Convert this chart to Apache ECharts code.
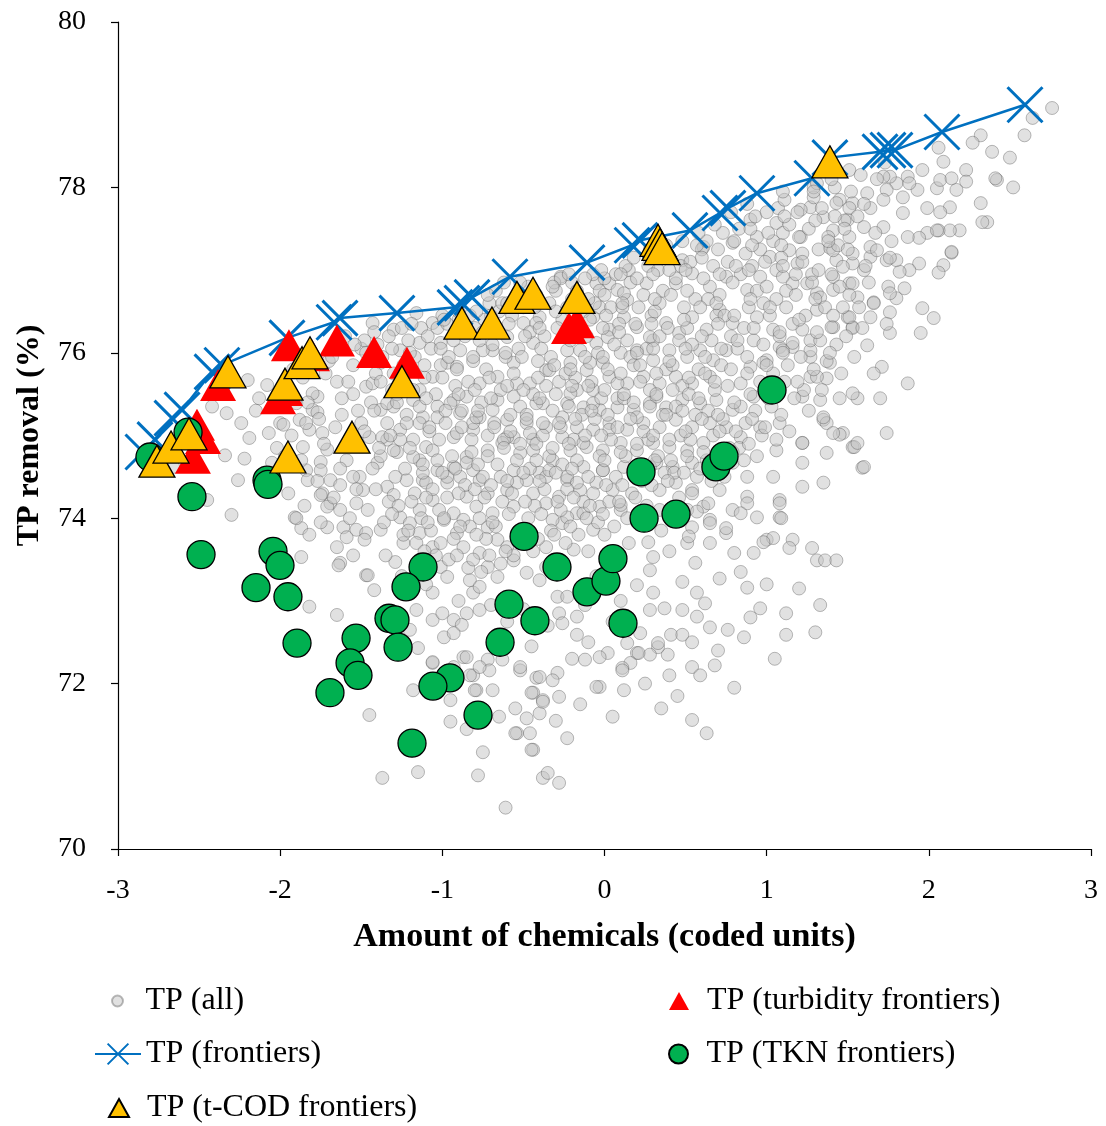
<!DOCTYPE html>
<html>
<head>
<meta charset="utf-8">
<script src="https://cdn.jsdelivr.net/npm/echarts@6/dist/echarts.min.js"></script>
<style>
  html, body { margin: 0; padding: 0; background: #fff; }
  #chart { width: 1106px; height: 1126px; }
</style>
</head>
<body>
<div id="chart"></div>
<script>
// Axis ticks
const xTicks = [-3, -2, -1, 0, 1, 2, 3];
const yTicks = [70, 72, 74, 76, 78, 80];

// TP removal for every evaluated dosing combination: [coded chemical amount, TP removal %]
const tpAll = [
  [-2.66,74.62],[-2.45,74.22],[-2.30,74.04],[-2.34,74.76],[-2.26,74.46],[-2.33,75.27],[-2.42,75.35],[-2.50,75.0],
  [-2.20,75.67],[-2.08,75.61],[-2.13,75.45],[-2.19,74.97],[-2.07,75.03],[-2.00,75.15],[-2.05,74.67],[-2.24,75.15],[-2.15,75.3],[-2.22,74.72],[-2.02,74.85],[-1.98,75.13],
  [-1.90,75.39],[-1.77,75.47],[-1.80,75.31],[-1.88,75.19],[-1.82,75.07],[-1.84,74.58],[-1.75,74.68],[-1.69,74.46],
  [-1.80,75.51],[-1.77,75.28],[-1.84,75.15],[-1.74,75.03],[-1.86,74.86],[-1.71,74.83],[-1.75,74.58],[-1.83,74.46],[-1.74,74.30],[-1.69,74.18],[-1.63,74.10],[-1.91,74.01],[-1.87,73.88],[-1.82,73.80],[-1.71,73.89],[-1.61,73.89],[-1.59,73.77],[-1.63,73.46],[-1.65,72.83],[-1.82,72.93],[-1.63,74.40],[-1.53,74.18],[-1.49,74.34],[-1.51,74.50],[-1.45,74.98],[-1.59,74.70],[-1.55,74.50],[-1.53,73.86],[-1.47,73.82],[-1.48,73.74],[-1.38,73.86],[-1.47,73.31],[-1.42,73.13],
  [-1.90,74.0],[-1.87,73.53],[-1.75,74.28],[-1.71,74.14],[-1.64,73.43],[-1.46,73.31],[-1.45,71.62],[-1.37,70.86],[-1.15,70.93],[-1.15,72.43],[-1.16,72.89],[-1.18,71.92],[-0.95,71.54],[-0.78,70.89],[-0.75,71.17],[-0.61,70.50],[-0.54,71.40],[-0.46,71.40],[-0.44,71.20],[-0.38,70.86],[-0.44,71.89],[-0.48,71.58],[-0.40,71.64],[-0.79,71.92],[-0.81,72.10],[-0.87,72.32],[-0.72,72.29],[-0.71,72.16],[-0.63,72.29],[-0.52,72.16],[-0.42,72.07],[-0.38,71.80],[-1.06,72.25],[-0.95,71.80],
  [-1.47,75.59],[-1.38,75.31],[-1.34,74.95],[-1.28,74.80],[-1.40,74.67],[-1.34,74.38],[-1.30,74.28],[-1.26,74.01],[-1.22,74.46],[-1.14,74.70],[-1.10,74.86],[-1.12,74.46],[-1.03,74.58],[-0.97,74.43],[-1.06,74.22],[-1.14,74.10],[-1.20,73.94],[-1.14,73.82],[-1.24,73.70],[-1.29,73.47],[-1.06,73.65],[-1.01,73.41],[-0.97,73.29],[-0.99,73.98],[-0.93,74.06],[-0.87,73.98],[-0.91,73.82],[-0.89,74.50],[-0.93,74.62],[-0.85,74.74],[-0.81,74.58],[-0.77,74.46],[-0.72,74.30],[-0.79,74.14],[-0.69,74.06],[-0.72,73.89],[-0.77,73.58],[-0.83,73.25],[-0.81,73.10],[-0.85,72.85],[-0.93,72.77],[-0.99,72.56],[-1.06,72.77],[-1.06,73.10],
  [-1.30,75.35],[-1.18,75.43],[-1.12,75.22],[-1.03,75.35],[-0.93,75.43],[-0.89,75.27],[-0.81,75.07],[-0.77,75.22],[-0.66,75.43],[-0.60,75.19],[-0.56,74.98],[-0.52,74.79],[-0.44,74.95],[-0.36,75.10],[-0.26,75.22],[-0.19,74.95],[-0.32,74.70],[-0.40,74.55],[-0.48,74.46],[-0.56,74.58],[-0.60,74.34],[-0.56,74.14],[-0.44,74.30],[-0.36,74.18],[-0.28,74.26],[-0.23,74.46],[-0.17,74.06],[-0.26,73.94],[-0.32,73.98],[-0.19,73.62],[-0.66,73.74],[-0.60,73.65],[-0.56,73.49],[-0.72,73.41],[-0.66,73.29],[-0.77,73.17],[-0.48,73.34],[-0.40,73.25],[-0.36,73.41],[-0.29,73.05],[-0.23,73.05],[-0.17,72.81],[-0.28,72.85],[-0.77,72.89],[-0.93,72.20],[-0.85,72.32],[-0.77,72.20],[-0.52,72.20],[-0.40,72.08],[-0.29,72.13],
  [0.03,76.84],[0.14,76.64],[0.26,76.84],[0.34,76.60],[0.44,76.84],[0.54,76.96],[0.65,76.80],[0.75,76.92],[0.88,76.76],[0.96,76.92],[1.06,77.00],[1.16,76.84],[1.31,76.72],[1.41,76.76],[1.51,76.84],[1.53,76.31],[1.41,76.31],[1.22,76.28],[1.16,76.07],[1.27,75.95],[1.39,75.88],[1.50,76.43],[1.27,75.71],[1.37,75.69],[1.45,75.45],[1.56,75.45],[1.33,75.43],[1.22,75.47],[1.35,75.19],[1.22,74.91],[1.37,74.79],[1.53,74.86],[1.47,75.03],[1.22,74.67],[1.22,74.38],[1.08,74.22],[1.08,74.01],[0.94,74.01],[0.88,74.26],[0.88,74.50],[1.04,74.50],[1.06,74.82],[0.96,75.10],[1.08,75.15],[0.92,75.47],[0.84,75.63],[0.90,75.83],[1.00,75.91],[1.08,76.07],[1.04,76.28],[0.94,76.43],[0.79,76.36],[0.71,76.52],[0.63,76.28],[0.54,76.43],[0.46,76.24],[0.38,76.36],[0.30,76.15],[0.20,76.31],[0.12,76.43],[0.03,76.28],[-0.05,76.12],[-0.07,76.43],[-0.15,76.03],[-0.21,75.88],[-0.11,75.79],[-0.01,75.88],[0.10,76.00],[0.20,76.03],[0.30,75.91],[0.40,76.03],[0.51,75.95],[0.59,76.03],[0.67,75.91],[0.75,76.03],[0.65,75.71],[0.54,75.63],[0.44,75.71],[0.34,75.63],[0.24,75.71],[0.14,75.63],[0.03,75.71],[-0.07,75.55],[-0.17,75.55],[-0.23,75.39],[-0.13,75.34],[-0.03,75.31],[0.08,75.34],[0.18,75.31],[0.28,75.39],[0.38,75.34],[0.48,75.43],[0.59,75.39],[0.69,75.43],[0.79,75.31],[0.75,75.10],[0.65,75.15],[0.54,75.10],[0.44,75.19],[0.34,75.10],[0.24,75.15],[0.14,75.07],[0.03,75.15],[-0.07,75.07],[-0.17,75.10],[-0.26,74.98],[-0.21,74.82],[-0.11,74.86],[-0.01,74.82],[0.10,74.91],[0.20,74.82],[0.30,74.91],[0.40,74.86],[0.51,74.82],[0.61,74.91],[0.71,74.82],[0.84,74.98],[0.79,74.67],[0.69,74.62],[0.54,74.67],[0.42,74.62],[0.32,74.67],[0.12,74.62],[-0.01,74.58],[-0.13,74.62],[-0.23,74.50],[-0.15,74.34],[-0.05,74.43],[0.05,74.34],[0.34,74.34],[0.44,74.43],[0.54,74.34],[0.71,74.34],[0.88,74.18],[0.79,74.10],[0.61,74.14],[0.51,74.10],[0.10,74.10],[-0.03,74.14],[-0.13,74.06],[-0.23,74.01],[-0.07,73.86],[0.54,73.89],[0.65,73.98],[0.75,73.82],[1.00,73.74],[1.16,73.74],[0.51,73.70],[0.65,73.70],[1.53,75.51],[1.37,75.15],[1.35,74.43],
  [2.50,78.36],[2.52,78.0],[2.42,78.09],[2.32,77.81],[2.36,77.58],[2.23,78.21],[2.23,78.07],[2.17,77.97],[2.19,77.48],[2.13,77.76],[2.07,77.70],[1.99,77.75],[2.13,77.48],[2.06,77.48],[1.99,77.45],[1.94,77.39],[2.14,77.21],[2.09,77.06],[2.06,76.97],[1.94,77.08],[1.88,77.0],[1.82,76.98],[1.85,76.78],[1.80,76.66],[1.96,76.54],[2.03,76.42],[1.95,76.24],[1.76,76.49],[1.76,76.24],[1.62,76.09],[1.71,75.83],[1.87,75.63],[1.70,75.45],[1.74,75.03],[1.45,75.01],[1.54,74.86],[1.59,74.61],[1.64,76.43],[1.53,76.30],[1.40,76.31],[1.66,76.61],[1.56,76.67],[1.75,76.80],[1.80,77.12],[1.74,77.12],[1.64,77.16],[1.53,77.08],[1.41,76.92],[1.45,76.80],[1.93,77.97],[1.87,78.13],[1.80,78.05],[1.74,77.97],[1.72,77.85],[1.62,77.93],[1.53,77.81],[1.45,77.85],[1.50,77.61],[1.60,77.52],[1.72,77.52],[1.84,77.69],[1.87,77.40],[1.51,77.40],[1.41,77.48],[1.35,77.64],[1.64,77.28],[1.43,77.12],[1.60,77.00],[1.53,76.84],[1.96,78.21],[2.05,77.99],[2.09,78.31],[2.07,78.09],
  [2.76,78.96],[2.64,78.84],[2.59,78.63],[2.41,78.11],[2.32,78.63],[2.27,78.54],[2.39,78.43],[2.14,78.11],[2.06,78.48],[1.88,78.05],[1.76,78.13],[1.84,77.88],[2.33,77.58],[2.05,77.48],[2.14,77.22],[1.76,77.15],[1.51,77.75],[1.39,77.27],[1.27,77.76],[1.21,77.40],[1.14,77.24],[1.06,77.57],[0.94,77.40],[1.02,77.16],[1.10,76.92],[1.19,77.08],[1.25,76.84],[1.33,76.67],[1.31,76.52],[1.16,76.12],[1.10,76.03],[0.98,75.88],
  [-0.27,76.92],[-0.05,76.84],[0.08,76.76],[0.48,77.12],[0.61,77.28],[0.79,77.33],[0.90,77.61],[1.10,77.45],[1.21,77.73],[1.29,77.88],[1.43,77.81],[1.72,78.13],[1.51,78.21],[1.41,77.24],[1.47,77.04],[1.68,77.24],[1.76,76.72],[1.66,76.60],[1.51,76.43],[1.27,76.03],[1.31,75.71],[1.35,75.22],[1.41,75.03],[1.56,74.91],[1.22,74.91],[1.60,74.62],
  [0.10,74.16],[0.57,74.08],[0.65,73.94],[0.75,73.88],[0.84,74.06],[1.08,74.18],[1.09,74.0],[1.04,73.76],[0.98,73.71],[1.14,73.64],[1.28,73.64],[1.31,73.49],[1.36,73.49],[1.43,73.49],[1.33,72.95],[1.12,72.85],[1.12,72.59],[0.96,72.91],[0.86,72.56],[0.76,72.65],[0.88,73.16],[0.84,73.35],[0.92,73.58],[0.80,73.58],[0.71,73.27],[0.57,73.10],[0.62,72.97],[0.65,72.68],[0.48,72.89],[0.57,72.81],[0.48,73.23],[0.56,73.46],[0.52,73.78],[0.37,72.91],[0.41,72.59],[0.48,72.59],[0.54,72.50],[0.39,72.35],[0.68,72.22],[0.54,72.20],[0.59,72.10],[0.40,72.10],[0.54,71.56],[0.63,71.40],[0.28,72.89],[0.22,72.61],[0.14,72.49],[0.33,72.44],[0.28,72.35],[0.20,72.37],[0.16,72.25],[0.11,72.19],[0.02,72.37],[0.12,71.92],[-0.03,71.96],[0.20,73.19],[0.30,73.53],[0.28,73.37],[0.27,73.71],[0.64,74.18],[1.30,72.62],
  [-0.80,71.92],[-0.69,71.92],[-0.83,72.10],[-0.32,72.04],[-0.45,71.89],[-0.38,71.78],[-0.28,71.84],[-0.55,71.40],[-0.23,71.34],[-0.45,71.20],[-0.35,70.92],[-0.28,70.80],[-0.88,72.71],[-0.05,71.96],[-0.12,72.29],[-0.03,72.32],[0.11,72.16],[0.21,72.37],[0.33,72.49],[-0.17,72.59],[-0.26,72.73],[-0.93,72.61],[-1.06,72.26],
  [-1.43,76.36],[-1.30,76.28],[-1.16,76.48],[-1.06,76.36],[-1.01,76.12],[-1.14,76.12],[-1.26,76.03],[-1.38,75.88],[-1.43,75.63],[-1.34,75.39],[-1.14,75.55],[-1.06,75.71],[-0.97,75.88],[-0.89,76.03],[-0.69,76.03],[-0.60,76.19],[-0.50,76.36],[-0.40,76.43],[-0.44,76.12],[-0.56,75.88],[-0.66,75.71],[-0.77,75.63],[-0.85,75.47],[-0.95,75.39],[-1.03,75.22],[-1.14,75.15],[-1.26,75.07],[-1.37,74.98],[-1.30,74.82],[-1.18,74.74],[-1.06,74.82],[-0.93,74.98],[-0.81,75.15],[-0.69,75.31],[-0.56,75.47],[-0.46,75.63],[-0.36,75.79],[-0.38,75.39],[-0.48,75.15],[-0.60,74.98],[-0.72,74.82],[-0.85,74.67],[-0.97,74.50],[-1.10,74.43],[-0.44,74.82],[-0.64,74.50],[-0.36,74.50],
  [-0.91,75.83],[-0.75,76.03],[-0.42,76.36],[-0.03,76.55],[0.12,76.72],[0.02,76.19],[-0.09,75.88],[-0.23,76.03],[-0.34,75.79],[0.16,75.95],[0.28,76.19],[0.08,75.63],[-0.07,75.39],[-0.21,75.51],[-0.42,75.39],[-0.54,75.63],[-0.79,75.22],[-0.91,75.03],[-0.63,74.91],[-0.46,75.03],[-0.27,75.10],[-0.13,74.91],[0.03,75.07],[0.20,75.22],[0.32,75.47],[-0.75,74.50],[-0.54,74.43],[-0.34,74.58],[-0.17,74.43],[-0.01,74.58],[0.28,74.62],[-0.85,74.26],
  [-0.30,76.75],[-0.20,76.85],[-0.50,76.60],[-0.70,76.45],[-0.90,76.40],[0.00,76.90],[0.15,77.00],[0.40,77.15],[0.60,77.25],[-1.60,76.20],[-1.50,76.05],[-1.70,75.90],[-1.55,75.85],[-1.48,76.15],[-1.25,76.30],[-1.20,75.80],[-1.55,75.50],[-1.65,75.65],[-1.62,75.25],[-1.50,75.15],[-1.25,75.60],[-1.00,76.45],[-0.80,76.30],[-0.65,76.50],[-0.75,76.25],
  [-0.10,73.60],[0.00,73.80],[0.15,73.70],[0.20,73.95],[-0.05,73.30],[0.10,73.00],[-0.12,72.95],[0.05,72.75],[0.30,73.10],[0.40,73.60],[0.35,73.85],[0.45,74.05],
  [-1.46,74.1],[-1.43,74.6],[-1.48,75.05],[-1.44,75.4],[-1.41,75.75],[-1.47,76.0],[-1.42,76.25],
  [-1.36,73.95],[-1.33,74.2],[-1.38,74.75],[-1.34,75.15],[-1.31,75.55],[-1.37,75.95],[-1.33,76.2],
  [-1.24,73.8],[-1.27,74.15],[-1.23,74.6],[-1.26,74.95],[-1.22,75.25],[-1.28,75.5],[-1.24,75.85],[-1.21,76.15],
  [-1.16,73.7],[-1.13,74.0],[-1.17,74.3],[-1.12,74.55],[-1.18,74.95],[-1.14,75.35],[-1.11,75.7],[-1.17,75.95],[-1.13,76.3],
  [-1.04,73.55],[-1.07,73.85],[-1.02,74.1],[-1.06,74.35],[-1.03,74.7],[-1.08,75.05],[-1.04,75.5],[-1.01,75.85],[-1.07,76.05],[-1.03,76.3],
  [-0.96,73.5],[-0.93,73.75],[-0.97,74.25],[-0.94,74.75],[-0.98,75.15],[-0.92,75.6],[-0.96,75.95],[-0.93,76.15],[-0.97,76.35],
  [-0.84,73.4],[-0.87,73.65],[-0.83,73.9],[-0.86,74.4],[-0.82,74.95],[-0.88,75.3],[-0.84,75.65],[-0.81,75.9],[-0.86,76.2],[-0.83,76.45],
  [-0.76,73.35],[-0.73,73.75],[-0.77,74.0],[-0.74,74.25],[-0.78,74.65],[-0.72,75.0],[-0.76,75.4],[-0.73,75.8],[-0.77,76.15],[-0.74,76.4],[-0.71,76.6],
  [-0.64,73.45],[-0.67,73.9],[-0.63,74.2],[-0.66,74.65],[-0.62,74.95],[-0.68,75.15],[-0.64,75.55],[-0.61,75.95],[-0.66,76.25],[-0.63,76.6],[-0.67,76.75],
  [-0.56,73.55],[-0.53,73.85],[-0.57,74.3],[-0.54,74.7],[-0.58,75.05],[-0.52,75.35],[-0.56,75.75],[-0.53,76.05],[-0.57,76.45],[-0.54,76.7],
  [-0.44,73.6],[-0.47,74.0],[-0.43,74.15],[-0.46,74.6],[-0.42,74.9],[-0.48,75.25],[-0.44,75.5],[-0.41,75.9],[-0.46,76.25],[-0.43,76.55],[-0.47,76.8],
  [-0.36,73.65],[-0.33,73.85],[-0.37,74.35],[-0.34,74.75],[-0.38,75.0],[-0.32,75.3],[-0.36,75.6],[-0.33,75.95],[-0.37,76.2],[-0.34,76.6],[-0.31,76.85],
  [-0.24,73.7],[-0.27,74.1],[-0.23,74.35],[-0.26,74.65],[-0.22,75.35],[-0.28,75.65],[-0.24,75.75],[-0.21,76.15],[-0.26,76.4],[-0.23,76.55],[-0.27,76.9],
  [-0.16,73.8],[-0.13,74.2],[-0.17,74.7],[-0.14,75.25],[-0.18,75.7],[-0.12,75.95],[-0.16,76.3],[-0.13,76.5],[-0.17,76.75],
  [-0.04,73.95],[-0.07,74.3],[-0.03,74.75],[-0.06,75.2],[-0.02,75.45],[-0.08,75.65],[-0.04,76.0],[-0.01,76.3],[-0.06,76.6],[-0.03,76.75],[-0.07,76.95],
  [0.06,73.9],[0.03,74.2],[0.07,74.5],[0.04,74.95],[0.08,75.45],[0.02,75.8],[0.06,76.1],[0.09,76.35],[0.04,76.55],[0.07,76.95],
  [0.14,74.0],[0.17,74.3],[0.13,74.75],[0.16,75.2],[0.12,75.45],[0.18,75.85],[0.14,76.15],[0.11,76.55],[0.16,76.85],[0.13,77.05],
  [0.26,74.15],[0.23,74.45],[0.27,74.95],[0.24,75.05],[0.28,75.55],[0.22,75.85],[0.26,76.05],[0.29,76.45],[0.24,76.7],[0.27,77.05],
  [0.34,74.1],[0.37,74.55],[0.33,74.75],[0.36,75.25],[0.32,75.5],[0.38,75.8],[0.34,76.2],[0.31,76.5],[0.36,76.75],[0.33,77.0],[0.37,77.2],
  [0.46,74.25],[0.43,74.55],[0.47,75.0],[0.44,75.35],[0.48,75.6],[0.42,75.85],[0.46,76.15],[0.49,76.55],[0.44,76.9],[0.47,77.05],
  [0.54,74.3],[0.57,74.5],[0.53,74.95],[0.56,75.25],[0.52,75.5],[0.58,75.8],[0.54,76.1],[0.51,76.3],[0.56,76.65],[0.53,77.1],[0.57,77.3],
  [0.66,74.45],[0.63,74.7],[0.67,75.0],[0.64,75.3],[0.68,75.55],[0.62,75.95],[0.66,76.15],[0.69,76.45],[0.64,76.65],[0.67,77.05],[0.63,77.35],
  [0.74,74.5],[0.77,74.85],[0.73,75.2],[0.76,75.6],[0.72,75.85],[0.78,76.2],[0.74,76.45],[0.71,76.7],[0.76,77.1],[0.73,77.45],
  [0.86,74.7],[0.83,74.85],[0.87,75.15],[0.84,75.35],[0.88,75.75],[0.82,76.05],[0.86,76.3],[0.89,76.55],[0.84,76.95],[0.87,77.2],[0.83,77.5],
  [0.94,74.75],[0.97,75.0],[0.93,75.3],[0.96,75.65],[0.92,76.15],[0.98,76.6],[0.94,76.75],[0.91,77.05],[0.96,77.25],[0.93,77.65],
  [1.06,74.95],[1.03,75.35],[1.07,75.6],[1.04,75.75],[1.08,76.2],[1.02,76.45],[1.06,76.65],[1.09,77.15],[1.04,77.35],[1.07,77.75],
  [1.14,75.05],[1.17,75.45],[1.13,75.85],[1.16,76.35],[1.12,76.55],[1.18,76.95],[1.14,77.55],[1.11,77.85],
  [1.26,75.3],[1.23,75.55],[1.27,76.15],[1.24,76.45],[1.28,76.95],[1.22,77.2],[1.26,77.5],[1.29,78.0],
  [1.34,75.55],[1.37,75.9],[1.33,76.15],[1.36,76.55],[1.32,77.0],[1.38,77.4],[1.34,77.75],[1.31,78.05],
  [1.46,75.75],[1.43,76.1],[1.47,76.55],[1.44,77.3],[1.48,77.6],[1.42,78.0],
  [1.54,75.95],[1.57,76.55],[1.53,77.2],[1.56,77.65],[1.52,77.95],[1.58,78.15],
  [1.66,75.75],[1.63,76.85],[1.67,77.45],[1.64,77.75],[1.68,78.1],
  [1.74,76.35],[1.77,77.35],[1.73,78.3],
  [-1.95,74.3],[-1.97,74.75],[-1.93,75.0],[-1.96,75.55],[-1.92,75.8],
  [-1.85,74.15],[-1.87,74.7],[-1.83,75.4],[-1.86,75.7],
  [-1.75,73.95],[-1.77,74.45],[-1.73,74.9],[-1.76,75.2],[-1.72,75.75],
  [-1.65,73.65],[-1.67,74.25],[-1.63,74.6],[-1.66,75.1],[-1.62,75.45],[-1.68,75.95],
  [-1.55,73.55],[-1.57,74.0],[-1.53,74.35],[-1.56,74.9],[-1.52,75.3],[-1.58,75.65],[-1.54,76.1],
  [-1.35,73.55],[-1.25,73.3],[-1.10,73.2],[-0.90,73.0],[-0.70,72.95],[-0.60,72.75],[-0.50,72.9],[-0.35,72.7],[-0.60,72.5],[-0.45,72.45],[-0.20,72.3],[-0.10,72.5],[-1.00,72.85],[-1.20,72.65],
  [-0.55,71.7],[-0.65,71.6],[-0.85,71.45],[-0.30,71.55],[-0.15,71.75],[0.05,71.6],[0.25,72.0],[0.45,71.85],[0.70,72.4],[0.90,72.8],[1.00,73.2],[1.20,73.15],[1.05,72.3],[0.80,71.95],[0.35,71.7],
  [-1.41,74.35],[-1.39,74.85],[-1.42,75.3],[-1.38,75.65],[-1.40,76.1],
  [-1.31,74.05],[-1.29,74.5],[-1.32,75.0],[-1.28,75.4],[-1.30,75.75],[-1.31,76.05],
  [-1.21,73.85],[-1.19,74.2],[-1.20,74.85],[-1.22,75.15],[-1.18,75.55],[-1.20,76.0],[-1.19,76.35],
  [-1.11,73.6],[-1.09,73.95],[-1.10,74.25],[-1.12,74.65],[-1.08,75.1],[-1.10,75.45],[-1.11,75.85],[-1.09,76.2],
  [-1.01,73.7],[-0.99,74.0],[-1.00,74.55],[-1.02,74.95],[-0.98,75.3],[-1.00,75.7],[-1.01,76.05],[-0.99,76.4],
  [-0.91,73.55],[-0.89,73.9],[-0.90,74.3],[-0.92,74.6],[-0.88,75.1],[-0.90,75.5],[-0.91,75.8],[-0.89,76.25],[-0.90,76.5],
  [-0.81,73.5],[-0.79,73.8],[-0.80,74.35],[-0.82,74.8],[-0.78,75.3],[-0.80,75.55],[-0.81,75.95],[-0.79,76.5],
  [-0.71,73.55],[-0.69,73.95],[-0.70,74.4],[-0.72,74.75],[-0.68,75.1],[-0.70,75.45],[-0.71,75.7],[-0.69,76.1],[-0.70,76.35],[-0.72,76.7],
  [-0.61,73.6],[-0.59,74.05],[-0.60,74.45],[-0.62,74.85],[-0.58,75.25],[-0.60,75.6],[-0.61,76.0],[-0.59,76.35],[-0.60,76.6],[-0.62,76.85],
  [-0.51,73.75],[-0.49,74.2],[-0.50,74.55],[-0.52,74.9],[-0.48,75.2],[-0.50,75.55],[-0.51,75.95],[-0.49,76.2],[-0.50,76.55],[-0.52,76.85],
  [-0.41,73.75],[-0.39,74.05],[-0.40,74.45],[-0.42,74.7],[-0.38,75.15],[-0.40,75.45],[-0.41,75.7],[-0.39,76.05],[-0.40,76.3],[-0.42,76.7],
  [-0.31,73.8],[-0.29,74.2],[-0.30,74.55],[-0.32,74.85],[-0.28,75.15],[-0.30,75.5],[-0.31,75.85],[-0.29,76.3],[-0.30,76.5],[-0.32,76.8],
  [-0.21,73.9],[-0.19,74.25],[-0.20,74.6],[-0.22,74.9],[-0.18,75.2],[-0.20,75.6],[-0.21,75.8],[-0.19,76.2],[-0.20,76.65],[-0.22,76.95],
  [-0.11,74.0],[-0.09,74.15],[-0.10,74.5],[-0.12,75.0],[-0.08,75.3],[-0.10,75.6],[-0.11,76.2],[-0.09,76.4],[-0.10,76.65],[-0.12,76.9],
  [-0.01,74.05],[0.01,74.4],[0.00,74.7],[-0.02,75.0],[0.02,75.25],[0.00,75.55],[-0.01,75.95],[0.01,76.45],[0.00,76.7],[-0.02,77.0],
  [0.09,74.2],[0.11,74.4],[0.10,74.8],[0.08,75.1],[0.12,75.5],[0.10,75.75],[0.09,76.25],[0.11,76.6],[0.10,76.95],
  [0.19,74.25],[0.21,74.55],[0.20,74.9],[0.18,75.4],[0.22,75.65],[0.20,76.0],[0.19,76.35],[0.21,76.55],[0.20,76.9],[0.18,77.15],
  [0.29,74.4],[0.31,74.7],[0.30,75.0],[0.28,75.35],[0.32,75.75],[0.30,76.05],[0.29,76.35],[0.31,76.65],[0.30,76.95],[0.28,77.25],
  [0.39,74.45],[0.41,74.7],[0.40,74.95],[0.38,75.25],[0.42,75.55],[0.40,75.9],[0.39,76.3],[0.41,76.7],[0.40,77.0],[0.38,77.3],
  [0.49,74.55],[0.51,74.75],[0.50,75.05],[0.48,75.3],[0.52,75.7],[0.50,76.05],[0.49,76.4],[0.51,76.75],[0.50,77.0],[0.48,77.35],
  [0.59,74.6],[0.61,74.8],[0.60,75.2],[0.58,75.45],[0.62,75.75],[0.60,76.2],[0.59,76.55],[0.61,76.9],[0.60,77.15],[0.58,77.45],
  [0.69,74.7],[0.71,75.05],[0.70,75.25],[0.68,75.65],[0.72,76.05],[0.70,76.35],[0.69,76.6],[0.71,76.95],[0.70,77.25],[0.68,77.55],
  [0.79,74.8],[0.81,75.05],[0.80,75.4],[0.78,75.8],[0.82,76.15],[0.80,76.45],[0.79,76.85],[0.81,77.05],[0.80,77.35],[0.78,77.7],
  [0.89,74.9],[0.91,75.2],[0.90,75.5],[0.88,75.95],[0.92,76.3],[0.90,76.65],[0.89,77.0],[0.91,77.3],[0.90,77.5],[0.88,77.8],
  [0.99,75.1],[1.01,75.45],[1.00,75.85],[0.98,76.1],[1.02,76.55],[1.00,76.8],[0.99,77.1],[1.01,77.45],[1.00,77.7],
  [1.09,75.25],[1.11,75.65],[1.10,76.0],[1.08,76.25],[1.12,76.75],[1.10,77.05],[1.09,77.3],[1.11,77.65],[1.10,77.95],
  [1.19,75.65],[1.21,75.95],[1.20,76.4],[1.18,76.7],[1.22,77.1],[1.20,77.4],[1.19,77.7],
  [1.29,75.8],[1.31,76.25],[1.30,76.65],[1.28,76.85],[1.32,77.25],[1.30,77.6],[1.29,77.95],
  [1.39,76.0],[1.41,76.45],[1.40,76.95],[1.38,77.35],[1.42,77.65],[1.40,78.1],
  [1.49,76.2],[1.51,76.7],[1.50,77.25],[1.48,77.5],
  [1.59,76.3],[1.61,77.05],[1.60,77.8]
];

// Pareto frontier of TP removal versus chemical amount
const tpFrontier = [
  [-2.846,74.80],[-2.772,74.95],[-2.667,75.21],[-2.605,75.31],[-2.420,75.77],[-2.359,75.85],[-1.958,76.18],[-1.668,76.37],[-1.631,76.42],
  [-1.280,76.48],[-0.922,76.55],[-0.879,76.60],[-0.817,76.67],[-0.583,76.92],[-0.108,77.09],[0.170,77.30],[0.219,77.36],[0.527,77.48],
  [0.712,77.69],[0.761,77.75],[0.940,77.93],[1.279,78.11],[1.390,78.36],[1.699,78.43],[1.748,78.45],[1.791,78.45],[2.081,78.67],[2.593,79.00]
];

// TP at the turbidity-optimal settings
const tpTurbidity = [
  [-2.538,74.73],[-2.513,75.13],[-2.476,74.97],[-2.383,75.61],[-2.013,75.45],[-1.970,75.55],[-1.946,76.09],
  [-1.804,75.97],[-1.650,76.15],[-1.421,76.01],[-1.218,75.88],[-0.219,76.30],[-0.170,76.37]
];

// TP at the TKN-optimal settings
const tpTKN = [
  [-2.803,74.74],[-2.568,75.04],[-2.544,74.26],[-2.081,74.46],[-2.075,74.41],[-2.488,73.56],[-2.044,73.60],[-2.001,73.43],
  [-2.149,73.16],[-1.952,73.05],[-1.896,72.49],[-1.532,72.55],[-1.569,72.25],[-1.520,72.10],[-1.693,71.89],[-1.119,73.41],
  [-1.224,73.17],[-1.329,72.79],[-1.292,72.77],[-1.273,72.44],[-0.953,72.07],[-1.058,71.97],[-0.780,71.62],[-1.187,71.28],
  [-0.496,73.78],[-0.589,72.96],[-0.429,72.76],[-0.644,72.50],[-0.293,73.41],[-0.108,73.11],[0.009,73.24],[0.052,73.51],
  [0.114,72.73],[0.244,74.00],[0.225,74.56],[0.441,74.05],[0.687,74.62],[0.737,74.75],[1.033,75.55]
];

// TP at the t-COD-optimal settings
const tpTCOD = [
  [-2.760,74.69],[-2.673,74.86],[-2.562,75.02],[-2.322,75.77],[-1.970,75.62],[-1.865,75.88],[-1.816,76.00],[-1.249,75.65],
  [-1.557,74.98],[-1.952,74.74],[-0.879,76.36],[-0.694,76.36],[-0.540,76.67],[-0.441,76.72],[-0.170,76.67],
  [0.330,77.36],[0.342,77.31],[0.355,77.26],[1.390,78.31]
];

const FONT = '"Liberation Serif", "Times New Roman", serif';
const TRI_PATH = 'path://M5,0L10,9L0,9Z';
const X_PATH = 'path://M0,0L10,10M10,0L0,10';

const chart = echarts.init(document.getElementById('chart'), null, { renderer: 'canvas' });

function legendAt(name, left, top, w, h, icon) {
  const item = icon ? { name: name, icon: icon } : { name: name };
  return {
    data: [item], left: left, top: top, itemWidth: w, itemHeight: h, padding: 0,
    symbolKeepAspect: true,
    textStyle: { fontFamily: FONT, fontSize: 32, color: '#000' }
  };
}

chart.setOption({
  animation: false,
  backgroundColor: '#fff',
  grid: { left: 118, right: 15, top: 22, bottom: 277, containLabel: false },
  xAxis: {
    type: 'value', min: xTicks[0], max: xTicks[xTicks.length - 1], interval: 1,
    name: 'Amount of chemicals (coded units)', nameLocation: 'middle', nameGap: 71,
    nameTextStyle: { fontFamily: FONT, fontSize: 34, fontWeight: 'bold', color: '#000' },
    axisLine: { show: true, onZero: false, lineStyle: { color: '#000', width: 1.2 } },
    axisTick: { show: true, length: 7, lineStyle: { color: '#000', width: 1.2 } },
    axisLabel: { margin: 28, fontFamily: FONT, fontSize: 28, color: '#000' },
    splitLine: { show: false }
  },
  yAxis: {
    type: 'value', min: yTicks[0], max: yTicks[yTicks.length - 1], interval: 2,
    name: 'TP removal (%)', nameLocation: 'middle', nameGap: 72, nameRotate: 90,
    nameTextStyle: { fontFamily: FONT, fontSize: 32, fontWeight: 'bold', color: '#000' },
    axisLine: { show: true, onZero: false, lineStyle: { color: '#000', width: 1.2 } },
    axisTick: { show: true, length: 7, lineStyle: { color: '#000', width: 1.2 } },
    axisLabel: { margin: 32, fontFamily: FONT, fontSize: 28, color: '#000' },
    splitLine: { show: false }
  },
  legend: [
    legendAt('TP (all)', 111, 985, 46, 11, 'circle'),
    legendAt('TP (turbidity frontiers)', 669, 985, 46, 18, TRI_PATH),
    legendAt('TP (frontiers)', 94, 1038, 46, 26),
    legendAt('TP (TKN frontiers)', 668, 1038, 46, 19, 'circle'),
    legendAt('TP (t-COD frontiers)', 108, 1092, 46, 18, TRI_PATH)
  ],
  series: [
    {
      name: 'TP (all)', type: 'scatter', data: tpAll, symbol: 'circle', symbolSize: 13, z: 1,
      itemStyle: { color: 'rgba(195,195,195,0.5)', borderColor: 'rgba(80,80,80,0.38)', borderWidth: 1, opacity: 1 }
    },
    {
      name: 'TP (turbidity frontiers)', type: 'scatter', data: tpTurbidity, symbol: 'triangle', symbolSize: [36, 32], z: 3,
      itemStyle: { color: '#FF0000', borderWidth: 0, opacity: 1 }
    },
    {
      name: 'TP (frontiers)', type: 'line', data: tpFrontier, symbol: X_PATH, symbolSize: 35, z: 2,
      showSymbol: true, showAllSymbol: true,
      lineStyle: { color: '#0070C0', width: 2.5 },
      itemStyle: { color: '#0070C0', borderColor: '#0070C0', borderWidth: 3, opacity: 1 }
    },
    {
      name: 'TP (TKN frontiers)', type: 'scatter', data: tpTKN, symbol: 'circle', symbolSize: 28, z: 4,
      itemStyle: { color: '#00B050', borderColor: '#000', borderWidth: 1.3, opacity: 1 }
    },
    {
      name: 'TP (t-COD frontiers)', type: 'scatter', data: tpTCOD, symbol: 'triangle', symbolSize: [36, 32], z: 5,
      itemStyle: { color: '#FFC000', borderColor: '#000', borderWidth: 1.3, opacity: 1 }
    }
  ]
});
</script>
</body>
</html>
